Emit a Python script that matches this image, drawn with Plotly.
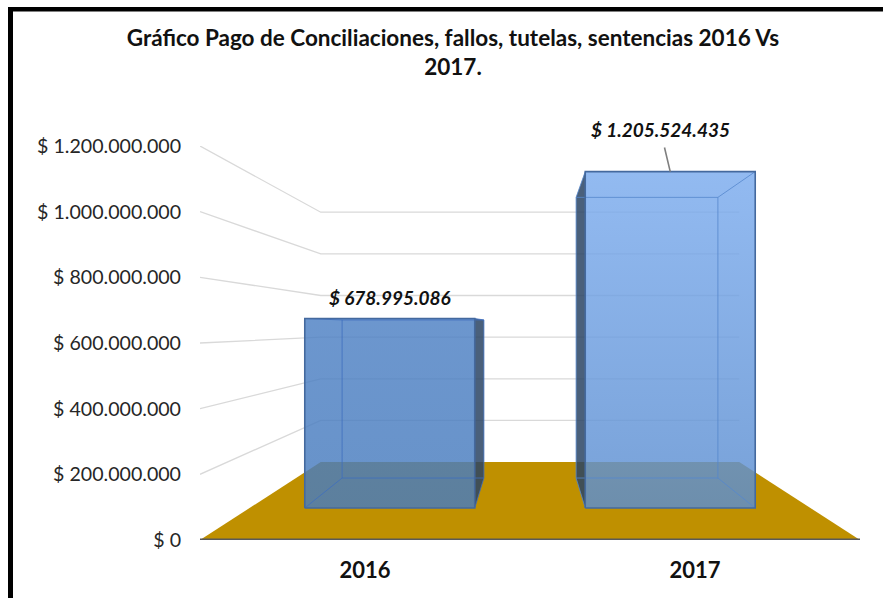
import plotly.graph_objects as go

categories = ["2016", "2017"]
values = [678995086, 1205524435]
value_labels = ["$ 678.995.086", "$ 1.205.524.435"]
y_ticks = [0, 200000000, 400000000, 600000000, 800000000, 1000000000, 1200000000]
y_tick_labels = ["$ 0", "$ 200.000.000", "$ 400.000.000", "$ 600.000.000",
                 "$ 800.000.000", "$ 1.000.000.000", "$ 1.200.000.000"]
cat_pos = [0.5, 1.5]

W, H = 883, 598
ML, MR, MT, MB = 200, 23, 146, 58
PW, PH = W - ML - MR, H - MT - MB

# Perspective of the 3D chart box (axis units)
VX, VY, K = 1.0, 648800000.0, 0.577
X_MAX, Y_MAX = 2.0, 1200000000.0
HALF = 0.303
D_FRONT, D_BACK = 0.306, 0.711


def proj(x, v, d):
    s = 1.0 / (1.0 + K * d)
    return VX + (x - VX) * s, VY + (v - VY) * s


def poly(points):
    p = [proj(*q) for q in points]
    return [a for a, _ in p], [b for _, b in p]


fig = go.Figure()


def face(points, fill=None, grad=None):
    xs, ys = poly(points + [points[0]])
    kw = dict(x=xs, y=ys, mode="lines", line=dict(width=0), fill="toself",
              hoverinfo="skip", showlegend=False)
    if grad:
        kw["fillgradient"] = dict(type="vertical", colorscale=[[0, grad[0]], [1, grad[1]]])
    else:
        kw["fillcolor"] = fill
    fig.add_trace(go.Scatter(**kw))


def edge(points, color, width):
    xs, ys = poly(points)
    fig.add_trace(go.Scatter(x=xs, y=ys, mode="lines", line=dict(color=color, width=width),
                             hoverinfo="skip", showlegend=False, cliponaxis=False))


# Floor
face([(0, 0, 0), (X_MAX, 0, 0), (X_MAX, 0, 1), (0, 0, 1)], fill="#BF9000")

# Walls' gridlines
for t in y_ticks[1:]:
    edge([(0, t, 0), (0, t, 1), (X_MAX, t, 1)], "#D9D9D9", 1.3)

# Base axis line
edge([(0, 0, 0), (X_MAX + 0.006, 0, 0)], "#595959", 3)

GRADS = [("rgba(72,124,190,0.83)", "rgba(78,129,196,0.83)"),
         ("rgba(92,142,208,0.83)", "rgba(124,172,238,0.83)")]
BACK_EDGES = ["rgba(62,110,190,0.8)", "rgba(85,135,205,0.8)"]
FRONT_EDGE = "#44699E"

for x, v, g, back_edge in zip(cat_pos, values, GRADS, BACK_EDGES):
    l, r = x - HALF, x + HALF
    f, b = D_FRONT, D_BACK
    inner = l if x > VX else r
    face([(inner, 0, f), (inner, v, f), (inner, v, b), (inner, 0, b)],
         fill="rgba(42,68,100,0.85)")
    face([(l, 0, f), (r, 0, f), (r, v, f), (l, v, f)], grad=g)
    # Edges seen through the transparent column
    edge([(l, 0, b), (r, 0, b), (r, v, b), (l, v, b), (l, 0, b)], back_edge, 1)
    edge([(l, 0, f), (l, 0, b)], back_edge, 1)
    edge([(r, 0, f), (r, 0, b)], back_edge, 1)
    edge([(l, v, f), (l, v, b)], back_edge, 1)
    edge([(r, v, f), (r, v, b)], back_edge, 1)
    edge([(l, 0, f), (r, 0, f), (r, v, f), (l, v, f), (l, 0, f)], FRONT_EDGE, 1.6)

# Data labels
label_font = dict(family="Lato", size=19, color="#111111", weight="bold", style="italic")
x0, y0 = proj(cat_pos[0], values[0], D_FRONT)
fig.add_annotation(x=x0, y=y0, text=value_labels[0], showarrow=False, yshift=21, font=label_font)
x1, y1 = proj(cat_pos[1], values[1], D_FRONT)
fig.add_annotation(x=x1, y=y1, text=value_labels[1], showarrow=True, arrowhead=0, arrowwidth=1.6,
                   arrowcolor="#7F7F7F", ax=-10, ay=-42, startstandoff=5, font=label_font)


def px(a):
    return (a - ML) / PW


def py(a):
    return (H - MB - a) / PH


frame = dict(type="rect", xref="paper", yref="paper", fillcolor="#000000", line=dict(width=0))
fig.add_shape(x0=px(8), x1=px(13), y0=py(7), y1=py(H), **frame)
fig.add_shape(x0=px(8), x1=px(W), y0=py(7), y1=py(11.5), **frame)

fig.update_layout(
    width=W, height=H, autosize=False,
    margin=dict(l=ML, r=MR, t=MT, b=MB, pad=0),
    paper_bgcolor="white", plot_bgcolor="white",
    title=dict(text="Gráfico Pago de Conciliaciones, fallos, tutelas, sentencias 2016 Vs<br>2017.",
               x=453 / W, xanchor="center", y=1 - 46 / H, yanchor="top",
               font=dict(family="Lato", size=22.5, color="#111111", weight="bold")),
    xaxis=dict(range=[0, X_MAX], tickvals=cat_pos, ticktext=categories, showgrid=False,
               zeroline=False, showline=False, ticks="", ticklabelstandoff=15,
               tickfont=dict(family="Lato", size=22, color="#111111", weight="bold")),
    yaxis=dict(range=[0, Y_MAX], tickvals=y_ticks, ticktext=y_tick_labels, showgrid=False,
               zeroline=False, showline=False, ticks="", ticklabelstandoff=18,
               tickfont=dict(family="Lato", size=19.6, color="#262626")),
)

fig.write_html("out.html", config={"displayModeBar": False},
               post_script="document.body.style.margin='0';")
